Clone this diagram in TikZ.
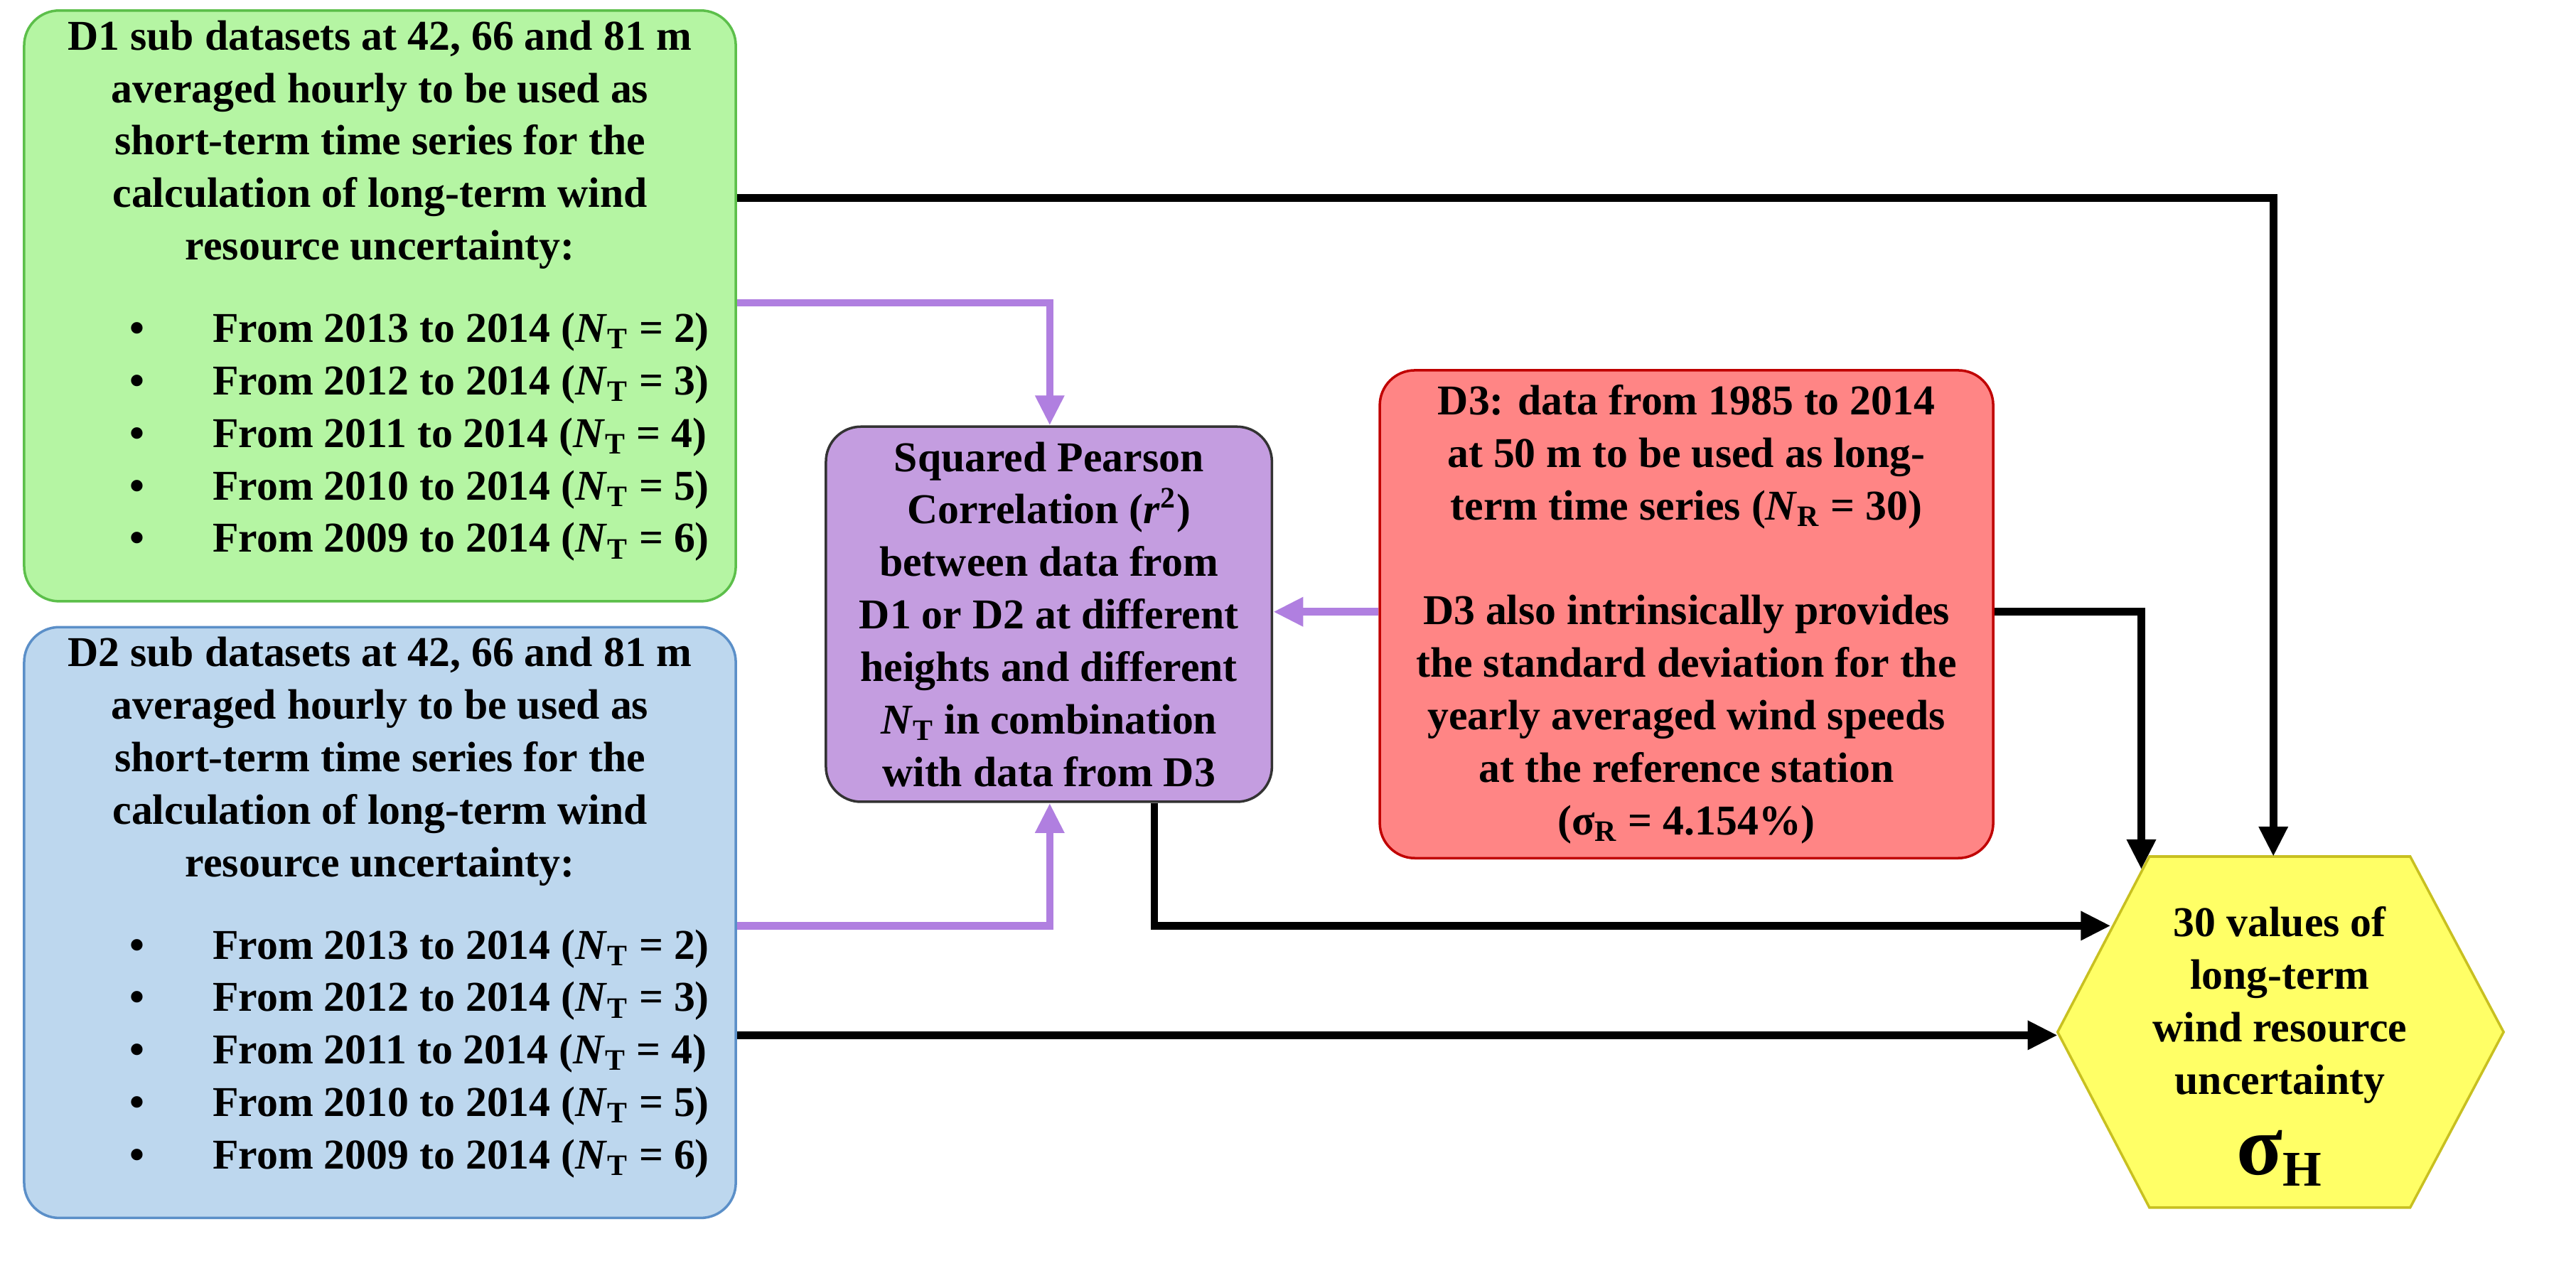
\documentclass[tikz,border=0pt]{standalone}
\usepackage{fontspec}
\setmainfont{Liberation Serif}
\usepackage{enumitem}
\usetikzlibrary{arrows.meta,shapes.geometric}
\definecolor{gfill}{HTML}{B5F5A3}\definecolor{gdraw}{HTML}{5CBF4A}
\definecolor{bfill}{HTML}{BDD7EE}\definecolor{bdraw}{HTML}{5B8FC8}
\definecolor{pfill}{HTML}{C49DE0}\definecolor{rfill}{HTML}{FF8585}
\definecolor{rdraw}{HTML}{C00000}\definecolor{yfill}{HTML}{FFFF66}
\definecolor{ydraw}{HTML}{C8C020}\definecolor{parr}{HTML}{B07FE0}
\newcommand{\NT}{\textit{N}\textsubscript{T}}
\newcommand{\lst}{\begin{itemize}[leftmargin=4.1em,labelsep=1.6em,itemsep=0pt,topsep=10pt,parsep=0pt,label=\textbullet]
\item From 2013 to 2014 (\NT{} = 2)
\item From 2012 to 2014 (\NT{} = 3)
\item From 2011 to 2014 (\NT{} = 4)
\item From 2010 to 2014 (\NT{} = 5)
\item From 2009 to 2014 (\NT{} = 6)
\end{itemize}}
\begin{document}
\begin{tikzpicture}[x=0.02265cm,y=-0.02265cm,
 box/.style={draw,rounded corners=14pt,line width=1pt,font=\bfseries\fontsize{17}{21}\selectfont,align=center,inner sep=4pt},
 blk/.style={line width=3pt,-{Triangle[length=12pt,width=11pt]}},
 pur/.style={line width=3pt,draw=parr,-{Triangle[length=12pt,width=11pt]}}]
\useasboundingbox (0,0) rectangle (1600,800);
\node[box,fill=gfill,draw=gdraw,minimum width=442*0.02265cm,minimum height=352*0.02265cm] (g) at (236,190)
 {\parbox{9.6cm}{\centering D1 sub datasets at 42, 66 and 81 m\\ averaged hourly to be used as\\ short-term time series for the\\ calculation of long-term wind\\ resource uncertainty:\par\raggedright\lst}};
\node[box,fill=bfill,draw=bdraw,minimum width=442*0.02265cm,minimum height=353*0.02265cm] (b) at (236,573)
 {\parbox{9.6cm}{\centering D2 sub datasets at 42, 66 and 81 m\\ averaged hourly to be used as\\ short-term time series for the\\ calculation of long-term wind\\ resource uncertainty:\par\raggedright\lst}};
\node[box,fill=pfill,draw=black!80,minimum width=277*0.02265cm,minimum height=233*0.02265cm] (p) at (651.5,381.5)
 {Squared Pearson\\ Correlation (\textit{r}\textsuperscript{2})\\ between data from\\ D1 or D2 at different\\ heights and different\\ \NT{} in combination\\ with data from D3};
\node[box,fill=rfill,draw=rdraw,minimum width=381*0.02265cm,minimum height=303*0.02265cm] (r) at (1047.5,381.5)
 {D3: data from 1985 to 2014\\ at 50 m to be used as long-\\ term time series (\textit{N}\textsubscript{R} = 30)\\[21pt] D3 also intrinsically provides\\ the standard deviation for the\\ yearly averaged wind speeds\\ at the reference station\\ (σ\textsubscript{R} = 4.154\%)};
\draw[draw=ydraw,fill=yfill,line width=1pt] (1278,641) -- (1335,532) -- (1497,532) -- (1555,641) -- (1497,750) -- (1335,750) -- cycle;
\node[font=\bfseries\fontsize{17}{21}\selectfont,align=center,inner sep=0pt] (h) at (1416,650)
 {30 values of\\ long-term\\ wind resource\\ uncertainty\\[10pt] {\fontsize{34}{36}\selectfont σ\textsubscript{\fontsize{20}{22}\selectfont H}}};
\coordinate (h1) at (1412,532);
\coordinate (h2) at (1330,540);
\coordinate (h3) at (1311,575);
\coordinate (h4) at (1278,643);
\coordinate (c1) at (1412,123);
\draw[blk] (g.east|-c1) -| (h1);
\coordinate (c2) at (652,188);
\draw[pur] (g.east|-c2) -| (p.north-|c2);
\coordinate (c3) at (652,575);
\draw[pur] (b.east|-c3) -| (p.south-|c3);
\draw[pur] (r.west|-0,380) -- (p.east|-0,380);
\coordinate (c4) at (1330,380);
\draw[blk] (r.east|-c4) -| (h2);
\coordinate (c5) at (717,575);
\draw[blk] (p.south-|c5) |- (h3);
\draw[blk] (b.east|-h4) -- (h4);
\end{tikzpicture}
\end{document}
